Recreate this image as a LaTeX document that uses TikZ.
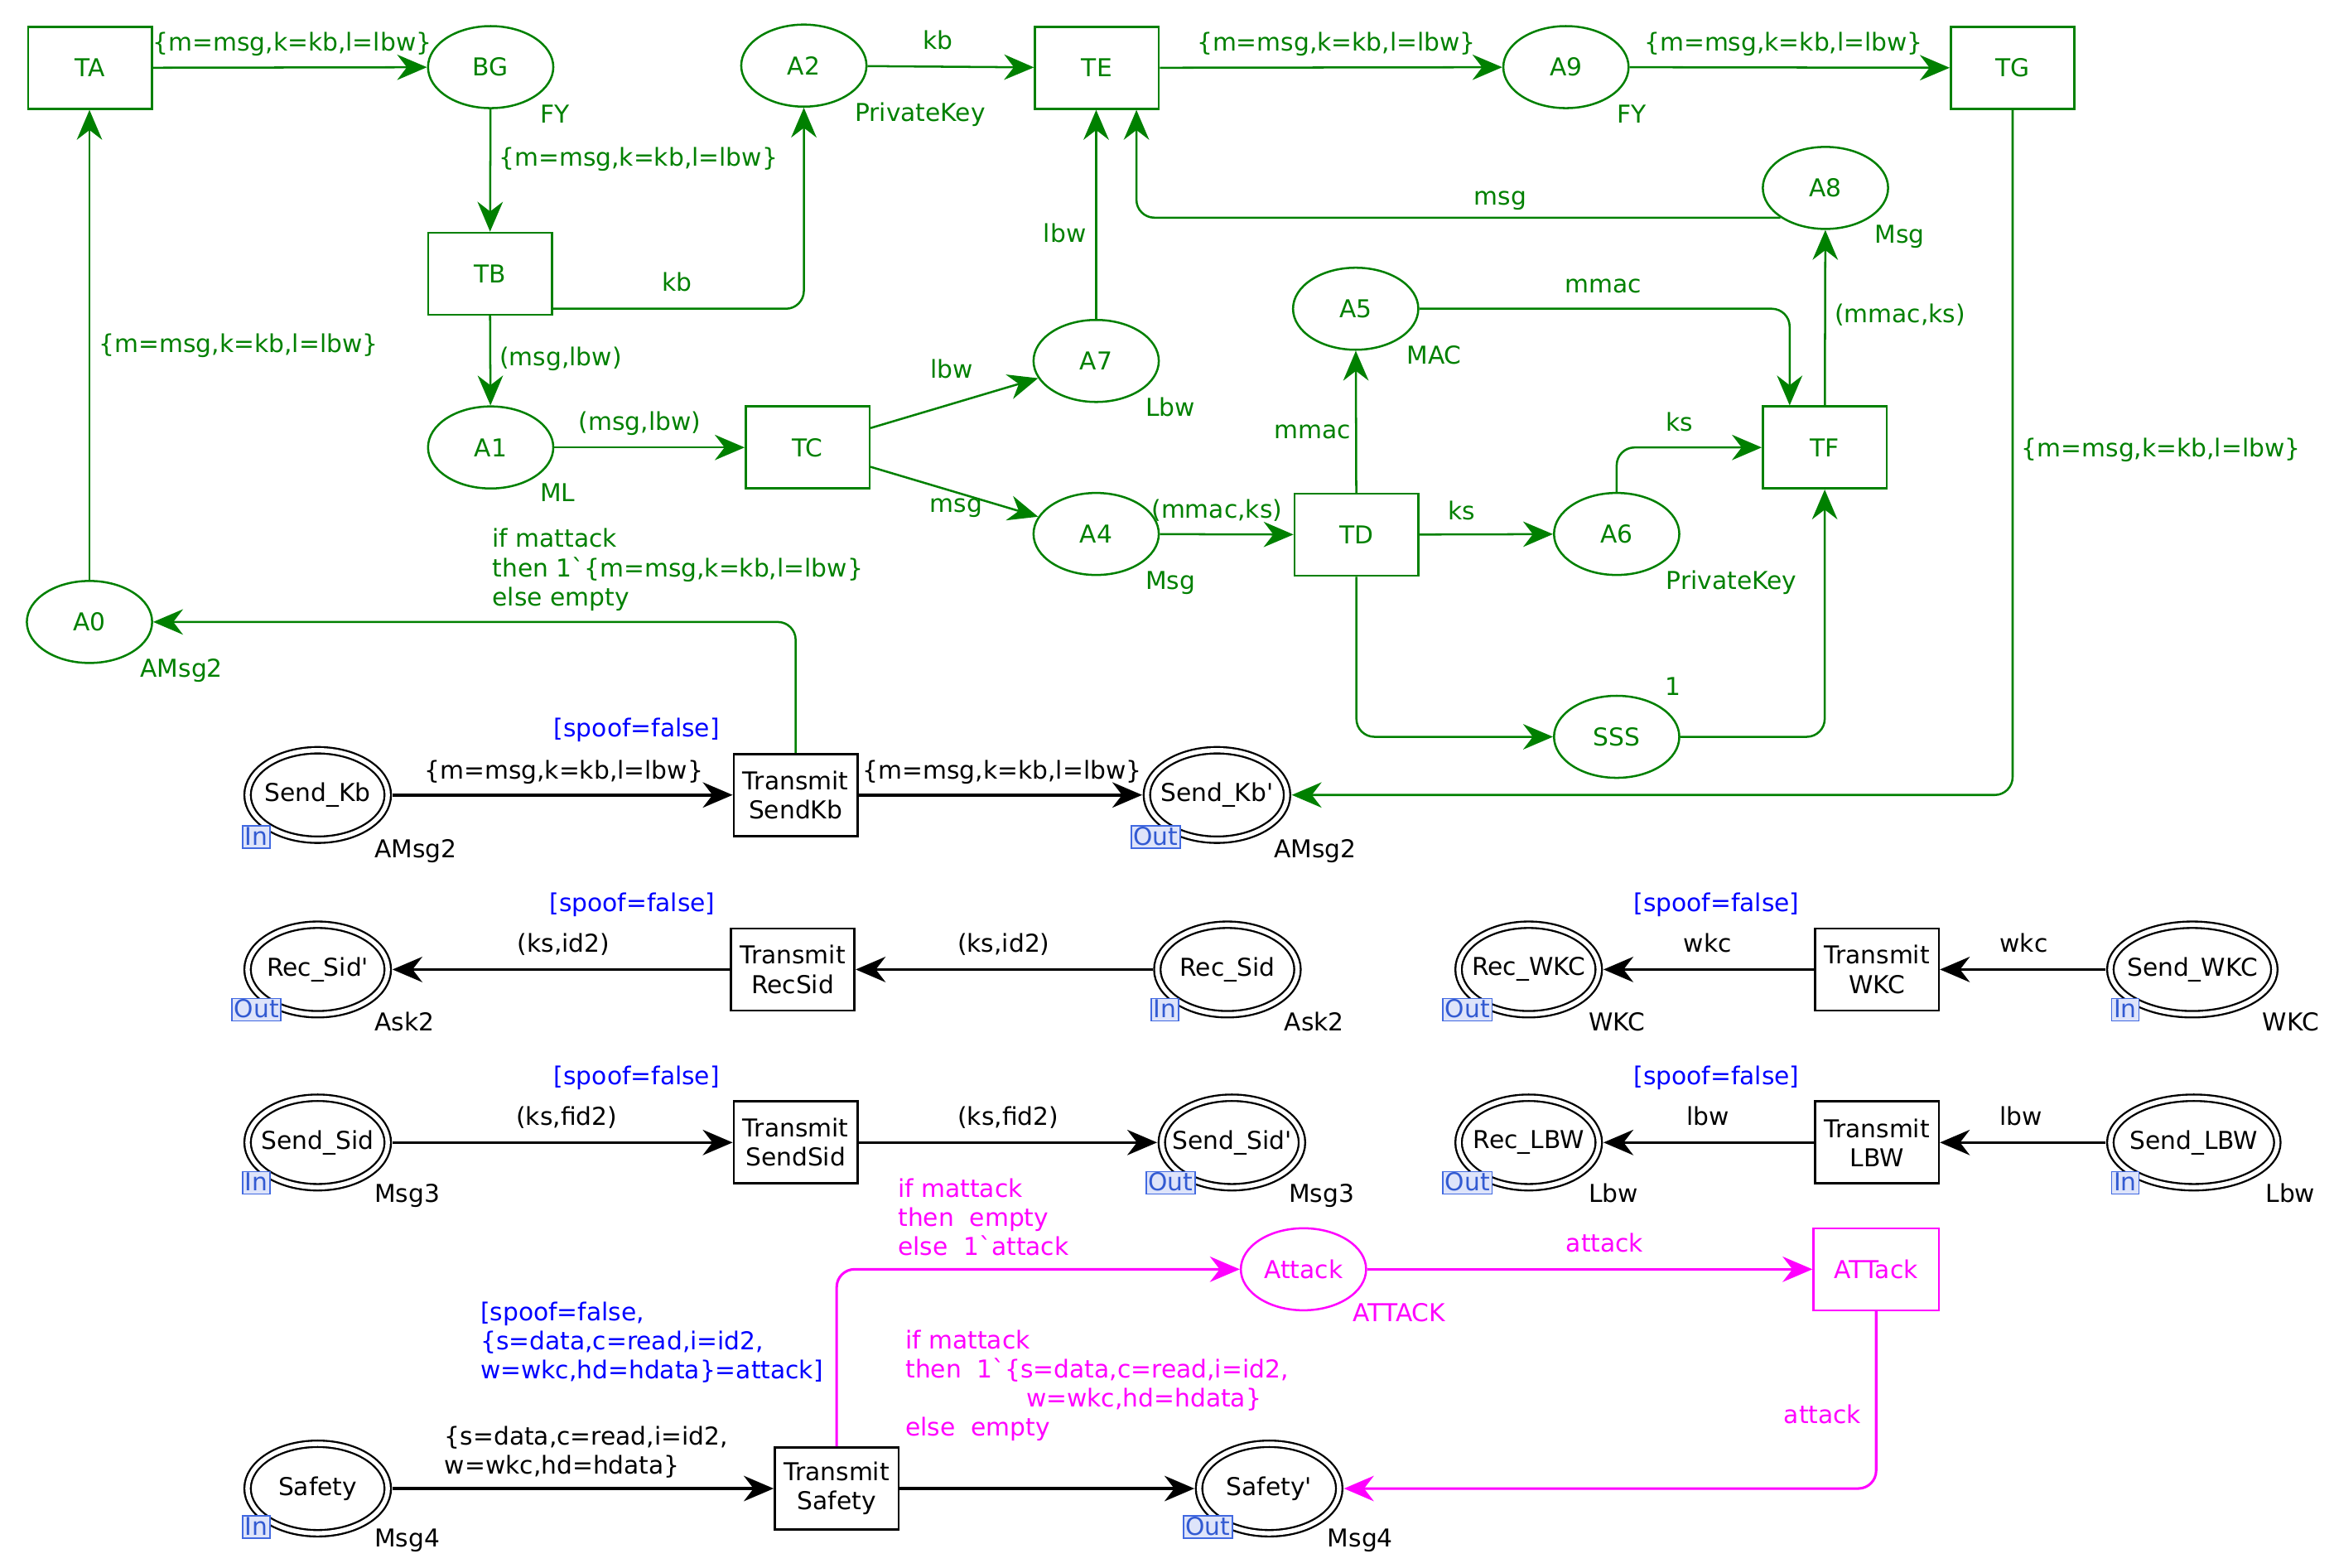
\documentclass[tikz,border=0pt]{standalone}
\usepackage{fontspec}
\setmainfont{DejaVu Sans}
\usetikzlibrary{arrows.meta,shapes.geometric,calc}
\definecolor{cpngreen}{RGB}{0,128,0}
\definecolor{cpnblue}{RGB}{0,0,255}
\definecolor{cpnmag}{RGB}{255,0,255}
\definecolor{tagline}{RGB}{65,105,225}
\definecolor{tagfill}{RGB}{222,228,250}
\definecolor{tagtext}{RGB}{50,90,210}
\newcommand{\mkzero}[1]{\makebox[0pt]{#1}}
\begin{document}
\begin{tikzpicture}[x=1pt,y=-1pt,font=\fontsize{16.5}{19.5}\selectfont,
  gtrans/.style={rectangle,draw=cpngreen,line width=1.4pt,minimum width=83pt,minimum height=55pt,inner sep=0pt,text=cpngreen},
  gplace/.style={ellipse,draw=cpngreen,line width=1.4pt,minimum width=84pt,minimum height=55pt,inner sep=0pt,text=cpngreen},
  btrans/.style={rectangle,draw=black,line width=1.5pt,minimum width=83pt,minimum height=55pt,inner sep=0pt,align=center},
  mtrans/.style={rectangle,draw=cpnmag,line width=1.4pt,minimum width=84pt,minimum height=55pt,inner sep=0pt,text=cpnmag},
  mplace/.style={ellipse,draw=cpnmag,line width=1.4pt,minimum width=84pt,minimum height=55pt,inner sep=0pt,text=cpnmag},
  bport/.style={ellipse,draw=black,double=white,double distance=3pt,line width=1.3pt,minimum width=94pt,minimum height=60pt,inner sep=0pt},
  tag/.style={draw=tagline,fill=tagfill,text=tagtext,line width=1pt,inner xsep=1.5pt,inner ysep=1pt,text height=12pt,text depth=1pt},
  tip/.style={-{Stealth[length=20pt,width=17pt,inset=6.5pt]}},
  garc/.style={draw=cpngreen,line width=1.4pt,tip,rounded corners=12pt},
  barc/.style={draw=black,line width=2pt,tip},
  marc/.style={draw=cpnmag,line width=1.7pt,tip,rounded corners=12pt},
  lab/.style={inner sep=0pt,text height=12pt,text depth=3.5pt},
  glab/.style={lab,text=cpngreen},
  blab/.style={lab,text=black},
  ulab/.style={lab,text=cpnblue},
  mlab/.style={lab,text=cpnmag},
  gtype/.style={glab,anchor=west},
  btype/.style={blab,anchor=west},
  mtype/.style={mlab,anchor=west},
  block/.style={inner sep=0pt,anchor=west,align=left}
]
\useasboundingbox (0,0) rectangle (1565,1051);

% ---------- green transitions ----------
\node[gtrans] (TA) at (60.5,45.5) {TA};
\node[gtrans] (TB) at (328.5,183.5) {TB};
\node[gtrans] (TC) at (541.5,300) {TC};
\node[gtrans] (TE) at (735.5,45.5) {TE};
\node[gtrans] (TG) at (1349.5,45.5) {TG};
\node[gtrans] (TD) at (909.5,358.5) {TD};
\node[gtrans] (TF) at (1223.5,300) {TF};

% ---------- green places ----------
\node[gplace] (BG) at (329,45) {BG};
\node[gplace] (A2) at (539,44) {A2};
\node[gplace] (A9) at (1050,45) {A9};
\node[gplace] (A8) at (1224,126) {A8};
\node[gplace] (A5) at (909,207) {A5};
\node[gplace] (A7) at (735,242) {A7};
\node[gplace] (A1) at (329,300) {A1};
\node[gplace] (A4) at (735,358) {A4};
\node[gplace] (A6) at (1084,358) {A6};
\node[gplace] (SSS) at (1084,494) {SSS};
\node[gplace] (A0) at (60,417) {A0};

\node[gtype] (tBG) at (362,78) {FY};
\node[gtype] (tA2) at (573,77) {PrivateKey};
\node[gtype] (tA9) at (1084,78) {FY};
\node[gtype] (tA8) at (1257,159) {Msg};
\node[gtype] (tA5) at (943,240) {MAC};
\node[gtype] (tA7) at (768,275) {Lbw};
\node[gtype] (tA1) at (362,332) {ML};
\node[gtype] (tA4) at (768,391) {Msg};
\node[gtype] (tA6) at (1117,391) {PrivateKey};
\node[gtype] (tA0) at (94,450) {AMsg2};
\node[glab] (mSSS) at (1122,462) {1};

% ---------- black ports ----------
\node[bport] (SendKb) at (213,533) {\mkzero{Send\_Kb}};
\node[bport] (SendKbP) at (816,533) {\mkzero{Send\_Kb\textquotesingle}};
\node[bport] (RecSidP) at (213,650) {\mkzero{Rec\_Sid\textquotesingle}};
\node[bport] (RecSid) at (823,650) {\mkzero{Rec\_Sid}};
\node[bport] (RecWKC) at (1025,650) {\mkzero{Rec\_WKC}};
\node[bport,minimum width=110pt] (SendWKC) at (1470,650) {\mkzero{Send\_WKC}};
\node[bport] (SendSid) at (213,766) {\mkzero{Send\_Sid}};
\node[bport] (SendSidP) at (826,766) {\mkzero{Send\_Sid\textquotesingle}};
\node[bport] (RecLBW) at (1025,766) {\mkzero{Rec\_LBW}};
\node[bport,minimum width=112pt] (SendLBW) at (1471,766) {\mkzero{Send\_LBW}};
\node[bport] (Safety) at (213,998) {\mkzero{Safety}};
\node[bport] (SafetyP) at (851,998) {\mkzero{Safety\textquotesingle}};

\node[btype] (tSendKb) at (251,571) {AMsg2};
\node[btype] (tSendKbP) at (854,571) {AMsg2};
\node[btype] (tRecSidP) at (251,687) {Ask2};
\node[btype] (tRecSid) at (861,687) {Ask2};
\node[btype] (tRecWKC) at (1065,687) {WKC};
\node[btype] (tSendWKC) at (1517,687) {WKC};
\node[btype] (tSendSid) at (251,802) {Msg3};
\node[btype] (tSendSidP) at (864,802) {Msg3};
\node[btype] (tRecLBW) at (1065,802) {Lbw};
\node[btype] (tSendLBW) at (1519,802) {Lbw};
\node[btype] (tSafety) at (251,1033) {Msg4};
\node[btype] (tSafetyP) at (890,1033) {Msg4};

% ---------- black transitions ----------
\node[btrans] (TSK) at (533.5,533) {Transmit\\SendKb};
\node[btrans] (TRS) at (531.5,650) {Transmit\\RecSid};
\node[btrans] (TW) at (1258.5,650) {Transmit\\WKC};
\node[btrans] (TSS) at (533.5,766) {Transmit\\SendSid};
\node[btrans] (TL) at (1258.5,766) {Transmit\\LBW};
\node[btrans] (TS) at (561,998) {Transmit\\Safety};

% ---------- magenta ----------
\node[mplace] (Attack) at (874,851) {Attack};
\node[mtrans] (ATTack) at (1258,851) {ATTack};
\node[mtype] (tAttack) at (907,882) {ATTACK};

% ---------- green arcs ----------
\draw[garc] (TA) -- (BG);
\draw[garc] (A2) -- (TE);
\draw[garc] (TE) -- (A9);
\draw[garc] (A9) -- (TG);
\draw[garc] (BG) -- (TB);
\draw[garc] ([yshift=-23.5pt]TB.east) -| (A2.south);
\draw[garc] (TB) -- (A1);
\draw[garc] (A1) -- (TC);
\draw[garc] ([yshift=13pt]TC.east) -- (A7);
\draw[garc] ([yshift=-13pt]TC.east) -- (A4);
\draw[garc] (A7.north) -- (A7.north |- TE.south);
\draw[garc] (A4) -- (TD);
\draw[garc] (TD) -- (A5);
\draw[garc] (A5.east) -| ([xshift=-23.5pt]TF.north);
\draw[garc] (TD) -- (A6);
\draw[garc] (A6.north) |- (TF.west);
\draw[garc] (TF) -- (A8);
\draw[garc] (A8.south west) -| ([xshift=26.5pt]TE.south);
\draw[garc] (TD.south) |- (SSS.west);
\draw[garc] (SSS.east) -| (TF.south);
\draw[garc,shorten >=2.5pt] (TG.south) |- (SendKbP.east);
\draw[garc] (A0.north) -- (A0.north |- TA.south);
\draw[garc] (TSK.north) |- (A0.east);

% ---------- black arcs ----------
\draw[barc,shorten <=2.5pt] (SendKb) -- (TSK);
\draw[barc,shorten >=2.5pt] (TSK) -- (SendKbP);
\draw[barc,shorten >=2.5pt] (TRS) -- (RecSidP);
\draw[barc,shorten <=2.5pt] (RecSid) -- (TRS);
\draw[barc,shorten >=2.5pt] (TW) -- (RecWKC);
\draw[barc,shorten <=2.5pt] (SendWKC) -- (TW);
\draw[barc,shorten <=2.5pt] (SendSid) -- (TSS);
\draw[barc,shorten >=2.5pt] (TSS) -- (SendSidP);
\draw[barc,shorten >=2.5pt] (TL) -- (RecLBW);
\draw[barc,shorten <=2.5pt] (SendLBW) -- (TL);
\draw[barc,shorten <=2.5pt] (Safety) -- (TS);
\draw[barc,shorten >=2.5pt] (TS) -- (SafetyP);

% ---------- magenta arcs ----------
\draw[marc] (TS.north) |- (Attack.west);
\draw[marc] (Attack) -- (ATTack);
\draw[marc,shorten >=2.5pt] (ATTack.south) |- (SafetyP.east);

% ---------- port tags ----------
\node[tag] (gSendKb) at (172,561) {In};
\node[tag] (gSendKbP) at (775,561) {Out};
\node[tag] (gRecSidP) at (172,677) {Out};
\node[tag] (gRecSid) at (781,677) {In};
\node[tag] (gRecWKC) at (984,677) {Out};
\node[tag] (gSendWKC) at (1425,677) {In};
\node[tag] (gSendSid) at (172,793) {In};
\node[tag] (gSendSidP) at (785,793) {Out};
\node[tag] (gRecLBW) at (984,793) {Out};
\node[tag] (gSendLBW) at (1425,793) {In};
\node[tag] (gSafety) at (172,1024) {In};
\node[tag] (gSafetyP) at (810,1024) {Out};

% ---------- green arc labels ----------
\node[glab] (l1) at (196,30) {\{m=msg,k=kb,l=lbw\}};
\node[glab] (l2) at (629,29) {kb};
\node[glab] (l3) at (896,30) {\{m=msg,k=kb,l=lbw\}};
\node[glab] (l4) at (1196,30) {\{m=msg,k=kb,l=lbw\}};
\node[glab] (l5) at (428,107) {\{m=msg,k=kb,l=lbw\}};
\node[glab] (l6) at (454,191) {kb};
\node[glab] (l7) at (376,241) {(msg,lbw)};
\node[glab] (l8) at (429,284) {(msg,lbw)};
\node[glab] (l9) at (160,232) {\{m=msg,k=kb,l=lbw\}};
\node[glab] (l10) at (638,249) {lbw};
\node[glab] (l11) at (641,339) {msg};
\node[glab] (l12) at (714,158) {lbw};
\node[glab] (l13) at (816,343) {(mmac,ks)};
\node[glab] (l14) at (880,290) {mmac};
\node[glab] (l15) at (1075,192) {mmac};
\node[glab] (l16) at (1006,133) {msg};
\node[glab] (l17) at (980,344) {ks};
\node[glab] (l18) at (1126,285) {ks};
\node[glab] (l19) at (1274,212) {(mmac,ks)};
\node[glab] (l20) at (1449,302) {\{m=msg,k=kb,l=lbw\}};
\node[block,text=cpngreen] (l21) at (330,382) {if mattack\\then 1\textasciigrave\{m=msg,k=kb,l=lbw\}\\else empty};

% ---------- black arc labels and guards ----------
\node[blab] (b1) at (378,518) {\{m=msg,k=kb,l=lbw\}};
\node[blab] (b2) at (672,518) {\{m=msg,k=kb,l=lbw\}};
\node[ulab] (g1) at (427,490) {[spoof=false]};
\node[ulab] (g2) at (424,607) {[spoof=false]};
\node[blab] (b3) at (378,634) {(ks,id2)};
\node[blab] (b4) at (673,634) {(ks,id2)};
\node[ulab] (g3) at (1151,607) {[spoof=false]};
\node[blab] (b5) at (1145,634) {wkc};
\node[blab] (b6) at (1357,634) {wkc};
\node[ulab] (g4) at (427,723) {[spoof=false]};
\node[blab] (b7) at (380,750) {(ks,fid2)};
\node[blab] (b8) at (676,750) {(ks,fid2)};
\node[ulab] (g5) at (1151,723) {[spoof=false]};
\node[blab] (b9) at (1145,750) {lbw};
\node[blab] (b10) at (1355,750) {lbw};
\node[block,text=cpnblue] (g6) at (322,900) {[spoof=false,\\\{s=data,c=read,i=id2,\\w=wkc,hd=hdata\}=attack]};
\node[block,text=black] (b11) at (298,973.5) {\{s=data,c=read,i=id2,\\w=wkc,hd=hdata\}};

% ---------- magenta labels ----------
\node[block,text=cpnmag] (m1) at (602,816) {if mattack\\then~~empty\\else~~1\textasciigrave attack};
\node[mlab] (m2) at (1076,835) {attack};
\node[mlab] (m3) at (1222,950) {attack};
\node[block,text=cpnmag] (m4) at (607,929) {if mattack\\then~~1\textasciigrave\{s=data,c=read,i=id2,\\\hspace*{81pt}w=wkc,hd=hdata\}\\else~~empty};
\end{tikzpicture}
\end{document}
